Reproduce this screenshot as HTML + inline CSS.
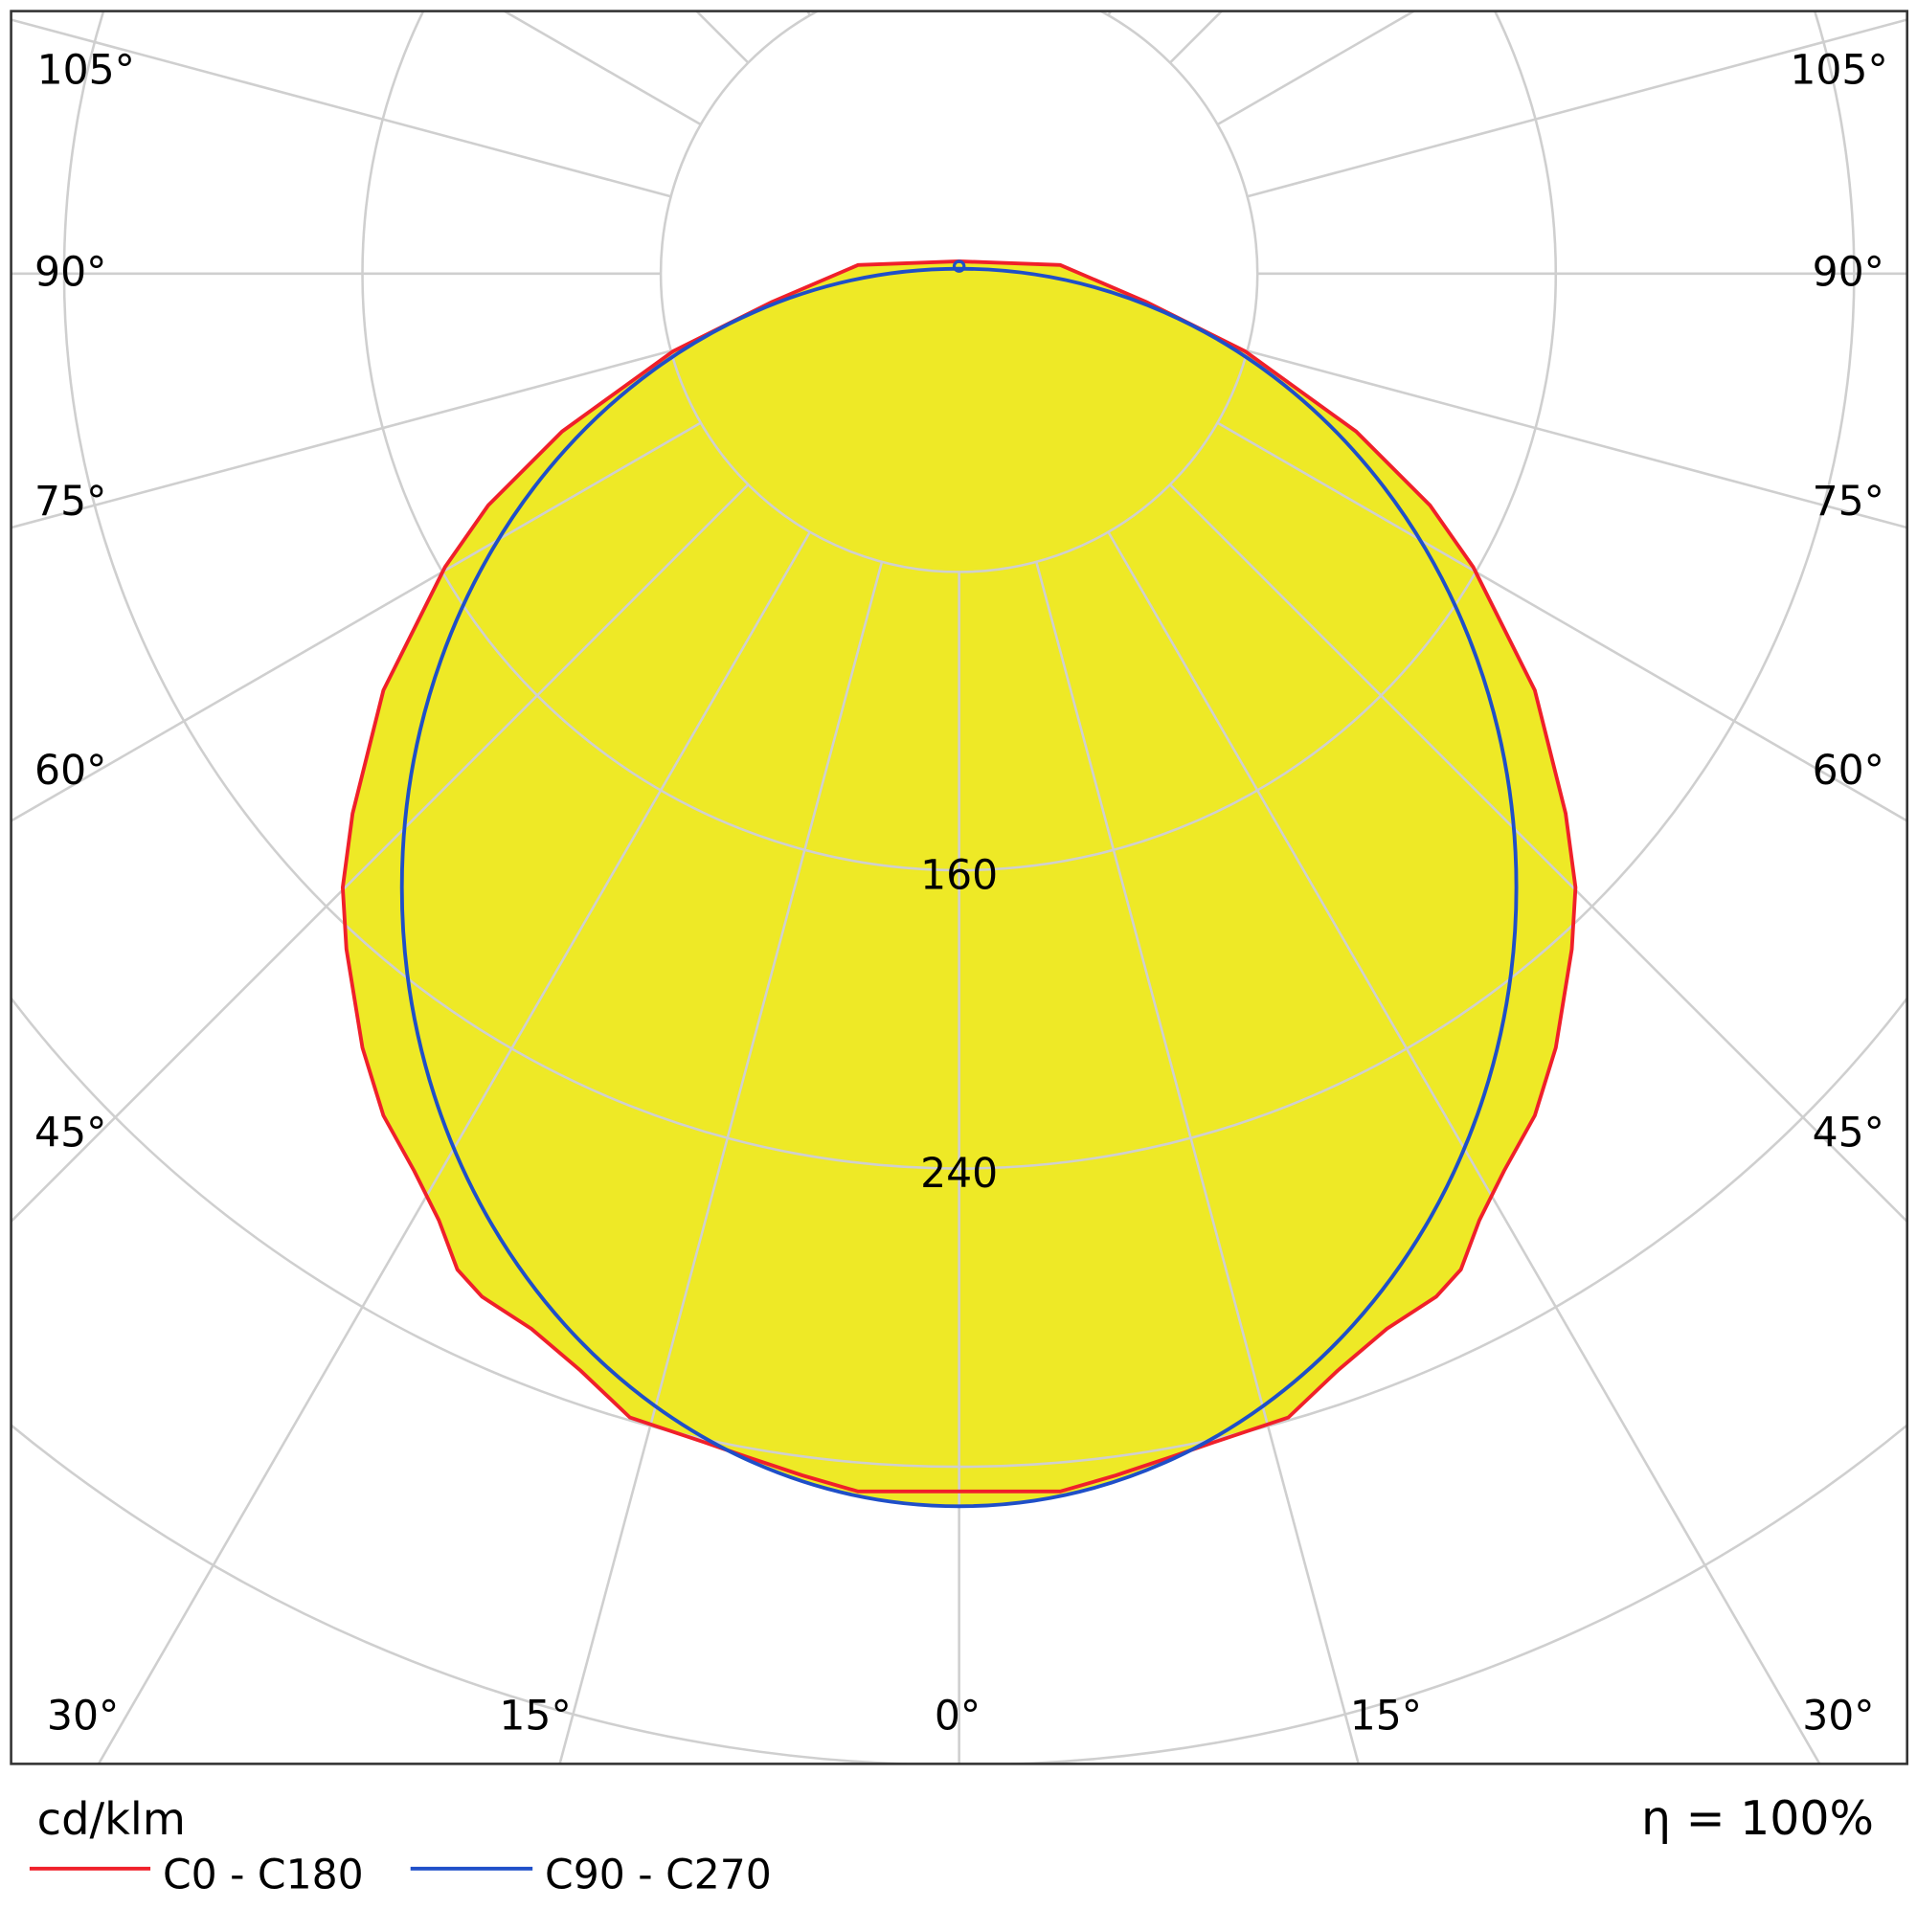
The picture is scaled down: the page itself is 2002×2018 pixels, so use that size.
<!DOCTYPE html>
<html><head><meta charset="utf-8">
<style>
html,body{margin:0;padding:0;background:#fff;width:2002px;height:2018px;overflow:hidden;}
svg{display:block;}
text{font-family:"DejaVu Sans","Liberation Sans",sans-serif;fill:#000;}
</style></head>
<body>
<svg id="s" width="2002" height="2018" viewBox="0 0 1555 1567.4" xmlns="http://www.w3.org/2000/svg">
<defs><clipPath id="c"><rect x="9" y="9" width="1538" height="1422"/></clipPath></defs>
<rect x="0" y="0" width="1555" height="1568" fill="#fff"/>
<g clip-path="url(#c)">
<polygon id="red" fill="#EEE926" stroke="none" points=""/>
<ellipse cx="778" cy="720" rx="452" ry="502" fill="#EEE926"/>
<g id="grid" stroke="#cfcfcf" stroke-width="2" fill="none"></g>
<polygon id="red2" fill="none" stroke="#F0202A" stroke-width="3" points=""/>
<ellipse cx="778" cy="720" rx="452" ry="502" fill="none" stroke="#1F4FC8" stroke-width="3"/>
<circle cx="778" cy="216" r="4" fill="none" stroke="#1F4FC8" stroke-width="2.5"/>
</g>
<rect x="9" y="9" width="1538" height="1422" fill="none" stroke="#333" stroke-width="2"/>
<g font-size="33">
<text x="30" y="68">105°</text><text x="1452" y="68">105°</text>
<text x="28" y="232">90°</text><text x="1470" y="232">90°</text>
<text x="28" y="418">75°</text><text x="1470" y="418">75°</text>
<text x="28" y="636">60°</text><text x="1470" y="636">60°</text>
<text x="28" y="930">45°</text><text x="1470" y="930">45°</text>
<text x="38" y="1403">30°</text><text x="1462" y="1403">30°</text>
<text x="405" y="1403">15°</text><text x="1095" y="1403">15°</text>
<text x="758" y="1403">0°</text>
<text x="778" y="721" text-anchor="middle">160</text>
<text x="778" y="963" text-anchor="middle">240</text>
<text x="30" y="1488" font-size="36">cd/klm</text>
<text x="1520" y="1488" font-size="38" text-anchor="end">η = 100%</text>
<text x="132" y="1532">C0 - C180</text>
<text x="442" y="1532">C90 - C270</text>
</g>
<line x1="24" y1="1516" x2="122" y2="1516" stroke="#F0202A" stroke-width="3"/>
<line x1="333" y1="1516" x2="432" y2="1516" stroke="#1F4FC8" stroke-width="3"/>
</svg>
<script>
var cx=778,cy=222,ns="http://www.w3.org/2000/svg",g=document.getElementById("grid");
[242,484,726,968,1210,1452,1694].forEach(function(r){var c=document.createElementNS(ns,"circle");c.setAttribute("cx",cx);c.setAttribute("cy",cy);c.setAttribute("r",r);g.appendChild(c);});
for(var a=-180;a<=180;a+=15){var t=a*Math.PI/180,l=document.createElementNS(ns,"line");
l.setAttribute("x1",cx+242*Math.sin(t));l.setAttribute("y1",cy+242*Math.cos(t));
l.setAttribute("x2",cx+2500*Math.sin(t));l.setAttribute("y2",cy+2500*Math.cos(t));g.appendChild(l);}
var R=[[778,212],[860,215],[930,245],[1010,285],[1100,350],[1160,410],[1195,460],[1215,500],[1245,560],[1255,600],[1270,660],[1278,720],[1275,770],[1262,850],[1245,905],[1220,950],[1200,990],[1185,1030],[1165,1052],[1125,1078],[1085,1112],[1045,1150],[985,1170],[950,1182],[905,1197],[860,1210],[778,1210]];
var pts=R.map(function(p){return p.join(",")});
for(var i=R.length-2;i>0;i--)pts.push((1556-R[i][0])+","+R[i][1]);
var s=pts.join(" ");document.getElementById("red").setAttribute("points",s);document.getElementById("red2").setAttribute("points",s);
</script>
</body></html>
